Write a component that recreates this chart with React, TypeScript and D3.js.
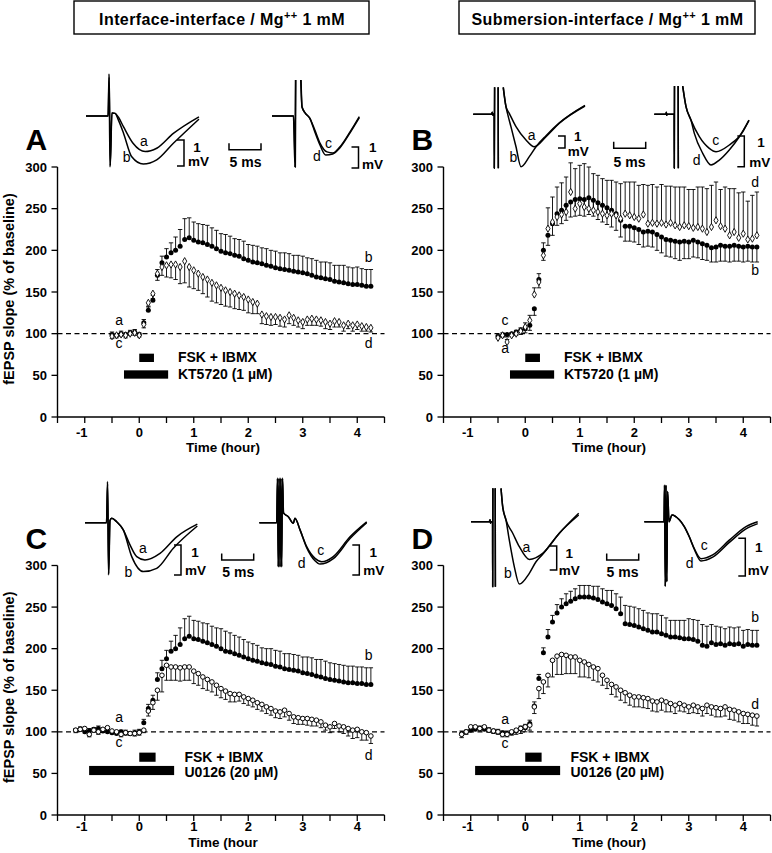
import React from "react";
import * as d3 from "d3";

const W = 772;
const H = 853;
const FONT = "'Liberation Sans', Arial, Helvetica, sans-serif";

// ---------- time grid (5-min bins, index * 1/12 h) ----------
const BIN = 1 / 12;
const START_AB = -6; // -0.5 h
const START_CD = -14; // -1.17 h

// ---------- Panel A ----------
const aCtrlMean = [99, 98, 100, 99, 101, 102, 99,
  113, 128, 140, 170, 185, 192, 197, 200, 205, 213, 215, 212, 210, 209, 207, 205, 202, 199, 197, 196,
  194, 193, 190, 188, 186, 185, 184, 182, 181, 179, 178, 177, 176, 175, 174, 173, 172, 170, 168, 167,
  166, 165, 163, 162, 161, 160, 159, 159, 158, 157, 157];
const aCtrlSem = [3, 2, 3, 2, 3, 3, 2,
  4, 5, 6, 7, 8, 10, 12, 16, 20, 25, 24, 22, 22, 22, 23, 22, 22, 21, 22, 21,
  20, 20, 21, 19, 20, 20, 19, 20, 19, 20, 19, 20, 20, 19, 20, 20, 19, 20, 20, 19,
  20, 20, 19, 20, 21, 20, 20, 21, 20, 20, 20];
const aDrugMean = [97, 98, 99, 98, 100, 101, 98,
  111, 137, 148, 172, 180, 182, 183, 183, 180, 187, 180, 176, 172, 168, 165, 161, 158, 155, 152, 150,
  148, 146, 144, 141, 138, 136, 123, 121, 120, 120, 119, 117, 122, 119, 116, 114, 117, 118, 117, 116,
  114, 112, 115, 114, 110, 112, 110, 111, 109, 108, 107];
const aDrugSem = [3, 3, 2, 3, 2, 3, 2,
  4, 5, 6, 8, 10, 14, 16, 18, 20, 26, 24, 22, 20, 20, 21, 22, 21, 20, 19, 18,
  18, 17, 16, 16, 14, 12, 11, 10, 10, 9, 10, 9, 10, 9, 8, 8, 7, 8, 7, 7,
  8, 7, 7, 6, 7, 6, 7, 6, 6, 5, 5];

// ---------- Panel B ----------
const bCtrlMean = [97, 98, 99, 100, 102, 104, 106,
  110, 130, 165, 200, 218, 232, 244, 248, 254, 258, 261, 262, 261, 263, 260, 257, 254, 251, 248, 244,
  236, 229, 229, 227, 225, 222, 223, 222, 219, 216, 213, 212, 211, 210, 211, 210, 212, 210, 208, 206,
  203, 204, 206, 205, 205, 206, 205, 204, 205, 204, 204];
const bCtrlSem = [3, 2, 3, 3, 4, 5, 5,
  6, 8, 10, 12, 12, 14, 14, 16, 18, 18, 20, 20, 20, 20, 19, 20, 20, 20, 20, 20,
  20, 18, 18, 17, 18, 18, 18, 18, 19, 19, 20, 20, 21, 22, 21, 20, 20, 19, 19, 18,
  17, 18, 19, 18, 19, 19, 18, 18, 18, 18, 18];
const bDrugMean = [95, 98, 90, 98, 100, 103, 108,
  116, 147, 162, 194, 226, 234, 240, 243, 246, 270, 250, 256, 252, 250, 248, 246, 244, 242, 244, 242,
  238, 244, 242, 240, 238, 243, 232, 233, 232, 233, 231, 233, 230, 228, 230, 229, 227, 228, 226, 222,
  228, 236, 229, 226, 218, 222, 215, 220, 213, 214, 218];
const bDrugSem = [3, 3, 3, 3, 4, 4, 5,
  6, 8, 10, 15, 25, 30, 36, 38, 42, 35, 48, 46, 52, 50, 44, 44, 42, 42, 40, 40,
  42, 38, 40, 42, 40, 36, 46, 46, 44, 46, 46, 44, 46, 48, 46, 44, 46, 48, 50, 52,
  50, 46, 44, 50, 56, 52, 54, 50, 46, 52, 52];

// ---------- Panel C ----------
const cCtrlMean = [102, 103, 100, 101, 103, 104, 101, 100, 99, 98, 100, 99, 98, 99, 100,
  111, 128, 138, 163, 176, 188, 197, 200, 205, 212, 215, 212, 211, 209, 207, 205, 203, 200, 197, 196,
  194, 192, 190, 188, 186, 185, 183, 182, 181, 179, 178, 176, 175, 174, 173, 171, 170, 169, 167, 166,
  164, 163, 162, 161, 160, 159, 159, 158, 158, 157, 157];
const cCtrlSem = [2, 3, 2, 3, 2, 3, 2, 3, 2, 3, 2, 3, 2, 3, 3,
  4, 5, 6, 8, 10, 10, 12, 16, 20, 24, 24, 22, 22, 22, 23, 22, 22, 24, 24, 23,
  22, 22, 21, 20, 20, 19, 18, 18, 19, 19, 19, 18, 19, 19, 19, 19, 20, 20, 20, 21,
  21, 20, 20, 20, 20, 20, 20, 20, 20, 20, 20];
const cDrugMean = [102, 103, 104, 97, 102, 100, 103, 105, 101, 100, 97, 99, 98, 98, 99,
  102, 125, 135, 150, 168, 180, 178, 178, 177, 178, 178, 173, 170, 166, 163, 160, 156, 152, 149, 146,
  145, 145, 142, 140, 138, 135, 133, 130, 128, 125, 124, 126, 122, 118, 117, 116, 116, 115, 114, 112,
  108, 106, 110, 107, 106, 104, 102, 103, 100, 99, 95];
const cDrugSem = [3, 2, 3, 3, 2, 3, 2, 3, 3, 2, 3, 3, 2, 3, 3,
  3, 6, 8, 12, 20, 18, 16, 16, 16, 16, 16, 15, 14, 14, 13, 12, 12, 11, 10, 10,
  9, 8, 8, 8, 8, 8, 8, 8, 8, 8, 8, 8, 8, 8, 8, 7, 8, 8, 7, 7,
  6, 7, 6, 7, 8, 9, 10, 10, 10, 9, 9];

// ---------- Panel D ----------
const dCtrlMean = [98, 100, 102, 103, 104, 103, 102, 101, 100, 99, 98, 99, 101, 104, 105,
  110, 131, 164, 195, 214, 232, 243, 250, 254, 257, 260, 262, 262, 262, 261, 259, 256, 254, 252, 248,
  242, 230, 229, 228, 226, 224, 222, 220, 220, 218, 216, 214, 214, 213, 212, 212, 211, 209, 204, 203,
  207, 205, 206, 204, 206, 205, 206, 203, 205, 204, 204];
const dCtrlSem = [3, 2, 3, 2, 3, 2, 3, 2, 3, 2, 3, 2, 3, 3, 4,
  4, 5, 5, 6, 9, 8, 10, 10, 12, 12, 12, 14, 14, 14, 14, 16, 16, 16, 18, 18,
  20, 22, 22, 22, 22, 22, 21, 22, 22, 22, 21, 20, 20, 21, 22, 24, 24, 25, 25, 24,
  22, 22, 20, 20, 20, 20, 20, 19, 18, 18, 18];
const dDrugMean = [97, 100, 106, 106, 104, 106, 102, 101, 100, 97, 97, 100, 102, 104, 106,
  108, 130, 152, 160, 168, 186, 191, 193, 192, 190, 190, 186, 184, 181, 178, 176, 168, 162, 157, 154,
  150, 147, 144, 142, 142, 141, 140, 137, 136, 138, 136, 134, 132, 134, 132, 130, 132, 130, 128, 132,
  130, 129, 128, 130, 127, 126, 124, 122, 121, 120, 119];
const dDrugSem = [4, 3, 3, 2, 3, 3, 2, 3, 3, 3, 3, 4, 5, 6, 6,
  6, 8, 12, 14, 14, 20, 22, 24, 22, 20, 20, 20, 18, 16, 16, 16, 12, 10, 12, 12,
  12, 12, 12, 12, 12, 12, 12, 12, 12, 12, 12, 10, 10, 9, 8, 8, 9, 8, 9, 10,
  10, 11, 10, 11, 12, 12, 12, 12, 11, 12, 12];

// ---------- drug application bars (hours) ----------
const fskBarAB = [0, 0.27];
const kt5720Bar = [-0.28, 0.53];
const fskBarCD = [0, 0.3];
const u0126Bar = [-0.92, 0.64];

// ---------- axis ticks ----------
const yTicks = [0, 50, 100, 150, 200, 250, 300];
const xTicks = [-1.5, -1, -0.5, 0, 0.5, 1, 1.5, 2, 2.5, 3, 3.5, 4, 4.5];
const xTickLabels = [-1, 0, 1, 2, 3, 4];

// ---------- fEPSP traces: [ms, mV] ; null = pen up ----------
type P = [number, number] | null;
const trA1a: P[] = [[-3.75, 0], [-0.3, 0], [-0.15, 1.62], [0, -1.96], [0.3, 0.12], [0.8, 0.1], [1.3, -0.04], [2.1, -0.41], [3.6, -1.05], [5.5, -1.37], [7.3, -1.24], [9.9, -0.67], [13.9, -0.03]];
const trA1b: P[] = [[-3.75, 0], [-0.3, 0], [-0.12, 1.5], [0.05, -1.9], [0.3, 0.12], [0.8, 0.1], [1.3, -0.15], [2.1, -0.65], [3.4, -1.57], [5.2, -1.85], [7.3, -1.69], [9.9, -1.05], [13.9, -0.12]];
const trA2c: P[] = [[-3.6, 0], [-0.25, 0], [0, -2.43], [0.08, 1.71], null, [0.94, 1.71], [1.1, 0.43], [1.6, 0.14], [2.3, -0.1], [3.1, -0.67], [3.9, -1.29], [5.0, -1.71], [5.9, -1.76], [7.0, -1.48], [8.6, -0.76], [10.05, -0.03]];
const trA2d: P[] = [[-3.6, 0], [-0.2, 0], [0.05, -2.43], [0.12, 1.71], null, [0.9, 1.71], [1.1, 0.43], [1.6, 0.14], [2.3, -0.1], [3.1, -0.76], [3.9, -1.38], [4.8, -1.86], [5.9, -1.81], [7.0, -1.52], [8.6, -0.8], [10.05, -0.08]];
const trB1a: P[] = [[-3.3, 0], [-0.47, 0], [-0.31, 0.17], [-0.23, -0.08], [-0.16, 0], [-0.02, 0], [0, -4.5], [0.05, 2.25], null, [0.6, 2.25], [0.63, -4.5], null, [1.4, 2.25], [1.83, 0.63], [2.34, 0.08], [3.39, -1.03], [4.95, -2.14], [6.25, -2.7], [8.08, -1.87], [10.16, -0.75], [14.17, 0.69]];
const trB1b: P[] = [[-3.3, 0], [-0.47, 0], [-0.31, 0.17], [-0.23, -0.08], [-0.16, 0], [-0.02, 0], [0, -4.5], [0.05, 2.25], null, [0.6, 2.25], [0.63, -4.5], null, [1.4, 2.25], [1.83, 0.63], [2.1, 0.0], [2.6, -1.03], [3.39, -2.7], [4.17, -4.37], [5.47, -3.53], [6.52, -2.7], [8.08, -1.78], [10.16, -0.71], [14.17, 0.75]];
const trB2c: P[] = [[-3.13, 0], [-1.3, 0], [-1.25, 0.07], [-1.19, -0.03], [-1.09, 0], [-0.02, 0], [0, -1.76], [0.03, 0.92], null, [0.6, 0.92], [0.63, -1.76], null, [1.31, 0.92], [1.83, 0.25], [2.61, -0.19], [3.91, -0.73], [5.47, -1.11], [6.52, -1.22], [8.59, -1.0], [10.69, -0.57], [11.67, -0.19]];
const trB2d: P[] = [[-3.13, 0], [-1.3, 0], [-1.25, 0.07], [-1.19, -0.03], [-1.09, 0], [-0.02, 0], [0, -1.76], [0.03, 0.92], null, [0.6, 0.92], [0.63, -1.76], null, [1.31, 0.92], [1.83, 0.25], [2.61, -0.19], [3.13, -0.62], [4.44, -1.27], [5.73, -1.65], [7.03, -1.49], [8.59, -1.16], [10.16, -0.73], [11.67, -0.2]];
const trC1a: P[] = [[-3.67, 0], [-0.31, 0], [-0.16, 1.37], [0, -1.74], [0.23, 0.07], [0.5, 0.15], [1.28, 0.03], [2.31, -0.24], [3.36, -0.74], [4.41, -1.13], [5.7, -1.24], [8.05, -1.02], [10.66, -0.47], [13.88, -0.05]];
const trC1b: P[] = [[-3.67, 0], [-0.31, 0], [-0.13, 1.3], [0.04, -1.7], [0.23, 0.07], [0.5, 0.15], [1.28, 0.03], [2.31, -0.24], [3.63, -1.13], [5.44, -1.63], [7.53, -1.52], [10.13, -0.85], [13.88, -0.11]];
const trC2c: P[] = [[-3.23, 0], [-0.52, 0], [-0.39, 1.48], [-0.27, -1.47], [-0.14, 1.48], [0, -1.47], [0.13, 1.48], [0.25, -1.47], [0.39, 1.48], [0.55, 0.33], [1.3, 0.2], [2.08, -0.02], [2.34, 0.15], [3.13, -0.24], [4.17, -0.8], [5.47, -1.19], [6.52, -1.3], [8.33, -1.13], [10.94, -0.47], [13.55, 0.03]];
const trC2d: P[] = [[-3.23, 0], [-0.52, 0], [-0.39, 1.48], [-0.27, -1.47], [-0.14, 1.48], [0, -1.47], [0.13, 1.48], [0.25, -1.47], [0.39, 1.48], [0.55, 0.33], [1.3, 0.2], [2.08, -0.02], [2.34, 0.15], [3.13, -0.24], [4.17, -0.83], [5.47, -1.27], [6.25, -1.38], [8.33, -1.2], [10.94, -0.53], [13.55, 0]];
const trD1a: P[] = [[-3.39, 0], [-0.53, 0], [-0.42, 0.08], [-0.34, -0.06], [-0.27, 0], [-0.02, 0], [0, -2.71], [0.03, 1.39], null, [0.39, 1.39], [0.42, -2.71], null, [1.3, 1.39], [1.56, 0.63], [2.08, 0.07], [3.13, -0.48], [4.16, -1.04], [5.72, -1.57], [7.81, -1.32], [10.41, -0.48], [13.44, 0.35]];
const trD1b: P[] = [[-3.39, 0], [-0.53, 0], [-0.42, 0.08], [-0.34, -0.06], [-0.27, 0], [-0.02, 0], [0, -2.71], [0.03, 1.39], null, [0.39, 1.39], [0.42, -2.71], null, [1.3, 1.39], [1.56, 0.63], [2.08, 0.07], [2.59, -0.76], [3.38, -1.88], [4.16, -2.6], [5.72, -2.15], [6.77, -1.67], [7.81, -1.36], [10.41, -0.48], [13.44, 0.28]];
const trD2c: P[] = [[-3.39, 0], [-0.31, 0], [-0.23, 0.97], [-0.11, -1.72], [0, 0.97], [0.13, -1.59], [0.25, 0.8], [0.47, 0], [0.94, 0.18], [2.08, 0.05], [2.86, -0.13], [3.64, -0.4], [4.42, -0.71], [5.47, -0.98], [7.3, -0.88], [9.89, -0.49], [12.5, -0.13], [14.33, 0]];
const trD2d: P[] = [[-3.39, 0], [-0.31, 0], [-0.23, 0.97], [-0.11, -1.72], [0, 0.97], [0.13, -1.59], [0.25, 0.8], [0.47, 0], [0.94, 0.18], [2.08, 0.05], [2.86, -0.13], [3.64, -0.4], [4.42, -0.73], [5.47, -1.04], [7.3, -0.94], [9.89, -0.55], [12.5, -0.19], [14.33, -0.05]];

// ---------- layout ----------
const PX_PER_MS = 6.4;
const COLS = [[57.5, 384.5], [443.5, 770.5]];
const ROWS = [
  { y: [417, 167], tickLab: 19.5, title: 35 },
  { y: [815, 565.5], tickLab: 16, title: 31.5 },
];

type SeriesCfg = { start: number; mean: number[]; sem: number[]; marker: "filled" | "diamond" | "circle"; dir: 1 | -1 };
type LabelCfg = { text: string; t: number; v: number };

const panels = [
  {
    letter: "A", col: 0, row: 0, xTitle: "Time (hour)", yTitle: true,
    series: [
      { start: START_AB, mean: aCtrlMean, sem: aCtrlSem, marker: "filled", dir: 1 },
      { start: START_AB, mean: aDrugMean, sem: aDrugSem, marker: "diamond", dir: -1 },
    ] as SeriesCfg[],
    fsk: fskBarAB, inh: kt5720Bar, inhLabel: "KT5720 (1 µM)", fskV: [66, 76], inhV: [46, 56], textT: 0.71, fskTextV: 65.5, inhTextV: 45.5,
    labels: [{ text: "a", t: -0.37, v: 110 }, { text: "c", t: -0.37, v: 83 }, { text: "b", t: 4.21, v: 186 }, { text: "d", t: 4.21, v: 83 }] as LabelCfg[],
  },
  {
    letter: "B", col: 1, row: 0, xTitle: "Time (hour)", yTitle: false,
    series: [
      { start: START_AB, mean: bCtrlMean, sem: bCtrlSem, marker: "filled", dir: -1 },
      { start: START_AB, mean: bDrugMean, sem: bDrugSem, marker: "diamond", dir: 1 },
    ] as SeriesCfg[],
    fsk: fskBarAB, inh: kt5720Bar, inhLabel: "KT5720 (1 µM)", fskV: [66, 76], inhV: [46, 56], textT: 0.71, fskTextV: 65.5, inhTextV: 45.5,
    labels: [{ text: "c", t: -0.37, v: 110 }, { text: "a", t: -0.37, v: 77 }, { text: "d", t: 4.22, v: 276 }, { text: "b", t: 4.22, v: 170 }] as LabelCfg[],
  },
  {
    letter: "C", col: 0, row: 1, xTitle: "Time (hour", yTitle: true,
    series: [
      { start: START_CD, mean: cCtrlMean, sem: cCtrlSem, marker: "filled", dir: 1 },
      { start: START_CD, mean: cDrugMean, sem: cDrugSem, marker: "circle", dir: -1 },
    ] as SeriesCfg[],
    fsk: fskBarCD, inh: u0126Bar, inhLabel: "U0126 (20 µM)", fskV: [64, 75], inhV: [48, 59], textT: 0.83, fskTextV: 64, inhTextV: 46,
    labels: [{ text: "a", t: -0.37, v: 112 }, { text: "c", t: -0.37, v: 82 }, { text: "b", t: 4.21, v: 186 }, { text: "d", t: 4.21, v: 66 }] as LabelCfg[],
  },
  {
    letter: "D", col: 1, row: 1, xTitle: "Time (hour)", yTitle: false,
    series: [
      { start: START_CD, mean: dCtrlMean, sem: dCtrlSem, marker: "filled", dir: 1 },
      { start: START_CD, mean: dDrugMean, sem: dDrugSem, marker: "circle", dir: -1 },
    ] as SeriesCfg[],
    fsk: fskBarCD, inh: u0126Bar, inhLabel: "U0126 (20 µM)", fskV: [64, 75], inhV: [48, 59], textT: 0.83, fskTextV: 64, inhTextV: 46,
    labels: [{ text: "a", t: -0.37, v: 110 }, { text: "c", t: -0.37, v: 80 }, { text: "b", t: 4.22, v: 232 }, { text: "d", t: 4.22, v: 128 }] as LabelCfg[],
  },
];

const insets = [
  { x0: 110, y0: 116, pxMv: 26, traces: [trA1a, trA1b], mvBar: [184, 140], t1: [197, 151.5], tMv: [188, 166], msBar: [229, 149.7], tMs: [245.5, 166.7], labels: [["a", 144, 145.7], ["b", 126.7, 161.7]] },
  { x0: 295, y0: 116, pxMv: 21, traces: [trA2c, trA2d], mvBar: [358.5, 147], t1: [372.7, 152], tMv: [362, 168.5], msBar: null, tMs: null, labels: [["c", 328.5, 148], ["d", 317, 160.7]] },
  { x0: 494.3, y0: 114.3, pxMv: 12, traces: [trB1a, trB1b], mvBar: [565, 136], t1: [577.7, 141], tMv: [567.7, 155.5], msBar: [613.7, 148.3], tMs: [629.5, 166.7], labels: [["a", 531.7, 140], ["b", 513.3, 161.7]] },
  { x0: 674.3, y0: 114.3, pxMv: 30.7, traces: [trB2c, trB2d], mvBar: [744.3, 136], t1: [761, 146.7], tMv: [749.3, 166.7], msBar: null, tMs: null, labels: [["c", 715.7, 145], ["d", 696.7, 165]] },
  { x0: 108.5, y0: 522.7, pxMv: 30, traces: [trC1a, trC1b], mvBar: [181, 545], t1: [195, 556.7], tMv: [185, 575], msBar: [221.7, 560], tMs: [238.3, 576.7], labels: [["a", 143, 553.3], ["b", 128.5, 576.7]] },
  { x0: 280, y0: 522.7, pxMv: 30, traces: [trC2c, trC2d], mvBar: [359.3, 545], t1: [373.3, 556.7], tMv: [363.3, 575], msBar: null, tMs: null, labels: [["c", 320.8, 555], ["d", 301.7, 568.3]] },
  { x0: 492.7, y0: 521.7, pxMv: 24, traces: [trD1a, trD1b], mvBar: [556.7, 546], t1: [569.3, 558.3], tMv: [558.7, 575], msBar: [606.7, 560], tMs: [622.5, 576.7], labels: [["a", 526.3, 551.7], ["b", 508, 578.3]] },
  { x0: 666, y0: 521.7, pxMv: 37.7, traces: [trD2c, trD2d], mvBar: [745.3, 538.3], t1: [758.7, 551.7], tMv: [747.7, 575], msBar: null, tMs: null, labels: [["c", 704.3, 550], ["d", 689.7, 568.3]] },
];

const diamondPath = d3.symbol().type(d3.symbolDiamond).size(15)() as string;

function Panel({ cfg }: { cfg: any }) {
  const cols = COLS[cfg.col];
  const row = ROWS[cfg.row];
  const x = d3.scaleLinear().domain([-1.5, 4.5]).range(cols);
  const y = d3.scaleLinear().domain([0, 300]).range(row.y);
  const x0 = cols[0];
  const y0 = row.y[0];
  const series = cfg.series.map((s: SeriesCfg) => ({
    ...s,
    pts: s.mean.map((v, i) => ({ t: (s.start + i) * BIN, v, e: s.sem[i] })),
  }));
  const cap = 2.2;
  return (
    <g>
      <line x1={x0} x2={x(4.5)} y1={y(100)} y2={y(100)} stroke="#000" strokeWidth={1.3} strokeDasharray="5,3.5" />
      <line x1={x0} x2={x0} y1={y(0)} y2={y(300)} stroke="#000" strokeWidth={1.4} />
      <line x1={x0} x2={x(4.5)} y1={y0} y2={y0} stroke="#000" strokeWidth={1.4} />
      {yTicks.map((t) => (
        <g key={"y" + t}>
          <line x1={x0 - 6} x2={x0} y1={y(t)} y2={y(t)} stroke="#000" strokeWidth={1.3} />
          <text x={x0 - 10.5} y={y(t) + 4.6} textAnchor="end" fontSize={13} fontWeight="bold">{t}</text>
        </g>
      ))}
      {xTicks.map((t) => (
        <line key={"x" + t} x1={x(t)} x2={x(t)} y1={y0} y2={y0 + 6} stroke="#000" strokeWidth={1.3} />
      ))}
      {xTickLabels.map((t) => (
        <text key={"xl" + t} x={x(t) - (t < 0 ? 3 : 0)} y={y0 + row.tickLab} textAnchor="middle" fontSize={13} fontWeight="bold">{t}</text>
      ))}
      <text x={(x0 + x(4.5)) / 2 + 2} y={y0 + row.title} textAnchor="middle" fontSize={13.5} fontWeight="bold">{cfg.xTitle}</text>
      {cfg.yTitle && (
        <text transform={`translate(14,${(y(0) + y(300)) / 2 - 3}) rotate(-90)`} textAnchor="middle" fontSize={14.5} fontWeight="bold">fEPSP slope (% of baseline)</text>
      )}
      <rect x={x(cfg.fsk[0])} width={x(cfg.fsk[1]) - x(cfg.fsk[0])} y={y(cfg.fskV[1])} height={y(cfg.fskV[0]) - y(cfg.fskV[1])} fill="#000" />
      <rect x={x(cfg.inh[0])} width={x(cfg.inh[1]) - x(cfg.inh[0])} y={y(cfg.inhV[1])} height={y(cfg.inhV[0]) - y(cfg.inhV[1])} fill="#000" />
      <text x={x(cfg.textT)} y={y(cfg.fskTextV)} fontSize={14} fontWeight="bold">FSK + IBMX</text>
      <text x={x(cfg.textT)} y={y(cfg.inhTextV)} fontSize={14} fontWeight="bold">{cfg.inhLabel}</text>
      {series.map((s: any, si: number) => (
        <g key={"eb" + si}>
          {s.pts.map((p: any, i: number) => {
            const ye = y(p.v + s.dir * p.e);
            return (
              <g key={i}>
                <line x1={x(p.t)} x2={x(p.t)} y1={y(p.v)} y2={ye} stroke="#000" strokeWidth={0.9} />
                <line x1={x(p.t) - cap} x2={x(p.t) + cap} y1={ye} y2={ye} stroke="#000" strokeWidth={0.9} />
              </g>
            );
          })}
        </g>
      ))}
      {series.map((s: any, si: number) => (
        <g key={"mk" + si}>
          {s.pts.map((p: any, i: number) => {
            if (s.marker === "filled")
              return <circle key={i} cx={x(p.t)} cy={y(p.v)} r={2.5} fill="#000" />;
            if (s.marker === "circle")
              return <circle key={i} cx={x(p.t)} cy={y(p.v)} r={2.3} fill="#fff" stroke="#000" strokeWidth={1} />;
            return <path key={i} d={diamondPath} transform={`translate(${x(p.t)},${y(p.v)})`} fill="#fff" stroke="#000" strokeWidth={0.9} />;
          })}
        </g>
      ))}
      {cfg.labels.map((l: LabelCfg, i: number) => (
        <text key={"lb" + i} x={x(l.t)} y={y(l.v)} textAnchor="middle" fontSize={14}>{l.text}</text>
      ))}
      <text x={cols[0] - 32} y={y(300) - 17} fontSize={30} fontWeight="bold">{cfg.letter}</text>
    </g>
  );
}

function Inset({ ins }: { ins: any }) {
  const xs = d3.scaleLinear().domain([0, 1]).range([ins.x0, ins.x0 + PX_PER_MS]);
  const ys = d3.scaleLinear().domain([0, 1]).range([ins.y0, ins.y0 - ins.pxMv]);
  const line = d3
    .line<P>()
    .defined((d) => d != null)
    .x((d) => xs((d as [number, number])[0]))
    .y((d) => ys((d as [number, number])[1]))
    .curve(d3.curveMonotoneX);
  const mvLen = ys(0) - ys(1);
  const msLen = xs(5) - xs(0);
  return (
    <g>
      {ins.traces.map((tr: P[], i: number) => (
        <path key={i} d={line(tr) || ""} fill="none" stroke="#000" strokeWidth={1.5} strokeLinejoin="round" />
      ))}
      <path d={`M${ins.mvBar[0] - 7},${ins.mvBar[1]}H${ins.mvBar[0]}V${ins.mvBar[1] + mvLen}H${ins.mvBar[0] - 7}`} fill="none" stroke="#000" strokeWidth={1.5} />
      <text x={ins.t1[0]} y={ins.t1[1]} textAnchor="middle" fontSize={13.5} fontWeight="bold">1</text>
      <text x={ins.tMv[0]} y={ins.tMv[1]} fontSize={13.5} fontWeight="bold">mV</text>
      {ins.msBar && (
        <>
          <path d={`M${ins.msBar[0]},${ins.msBar[1] - 6.5}V${ins.msBar[1]}H${ins.msBar[0] + msLen}V${ins.msBar[1] - 6.5}`} fill="none" stroke="#000" strokeWidth={1.5} />
          <text x={ins.tMs[0]} y={ins.tMs[1]} textAnchor="middle" fontSize={14} fontWeight="bold">5 ms</text>
        </>
      )}
      {ins.labels.map((l: any, i: number) => (
        <text key={i} x={l[1]} y={l[2]} textAnchor="middle" fontSize={14}>{l[0]}</text>
      ))}
    </g>
  );
}

function Header({ x, w, cx, label }: { x: number; w: number; cx: number; label: string }) {
  return (
    <g>
      <rect x={x} y={1} width={w} height={33} fill="#fff" stroke="#000" strokeWidth={1.4} />
      <text x={cx} y={25} textAnchor="middle" fontSize={16} fontWeight="bold" letterSpacing={0.4}>
        {label} / Mg<tspan fontSize={11} dy={-6}>++</tspan><tspan dy={6}> 1 mM</tspan>
      </text>
    </g>
  );
}

export default function App() {
  return (
    <svg width={W} height={H} viewBox={`0 0 ${W} ${H}`} style={{ display: "block", position: "absolute", left: 0, top: 0, fontFamily: FONT, background: "#fff" }}>
      <rect x={0} y={0} width={W} height={H} fill="#fff" />
      <Header x={74} w={295} cx={222} label="Interface-interface" />
      <Header x={459} w={296} cx={607.5} label="Submersion-interface" />
      {panels.map((p) => (
        <Panel key={p.letter} cfg={p} />
      ))}
      {insets.map((ins, i) => (
        <Inset key={i} ins={ins} />
      ))}
    </svg>
  );
}
